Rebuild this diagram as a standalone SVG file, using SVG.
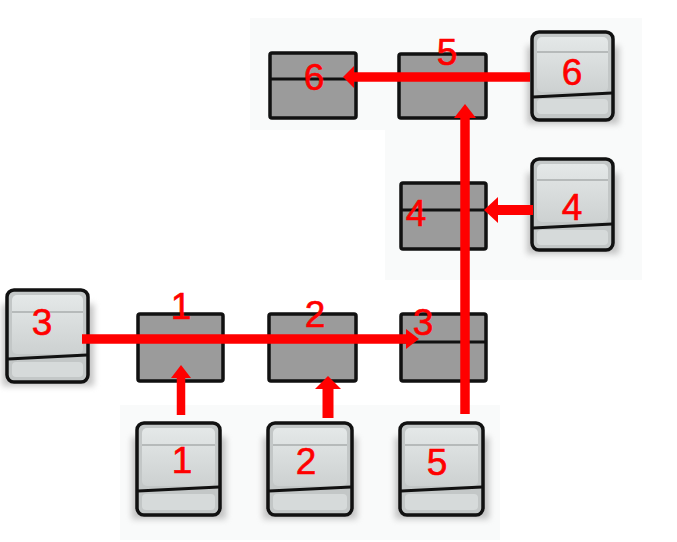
<svg xmlns="http://www.w3.org/2000/svg" width="677" height="542" viewBox="0 0 677 542">
<defs>
  <linearGradient id="lg" x1="0" y1="0" x2="0" y2="1">
    <stop offset="0" stop-color="#e4e8e8"/>
    <stop offset="1" stop-color="#cdd1d1"/>
  </linearGradient>
  <filter id="sh" x="-20%" y="-20%" width="140%" height="140%">
    <feGaussianBlur stdDeviation="3"/>
  </filter>
</defs>
<style>
  .dk{fill:#9b9b9b;stroke:#111;stroke-width:3.5;stroke-linejoin:round}
  .dv{stroke:#111;stroke-width:3}
  .lo{fill:#c3c7c7;stroke:#111;stroke-width:3.5;stroke-linejoin:round}
  .hi{fill:url(#lg)}
  .lw{fill:#d6dada}
  .gl{stroke:#a9adad;stroke-width:1.5}
  .sd{fill:#8a8a8a;opacity:0.5;filter:url(#sh)}
  .ar{stroke:#ff0000;stroke-width:9.5;fill:none}
  .hd{fill:#ff0000}
  .lb{font-family:"Liberation Sans",Arial,sans-serif;font-size:37px;fill:#ff0000;stroke:#ff0000;stroke-width:0.6;text-anchor:middle}
</style>
<rect width="677" height="542" fill="#ffffff"/>
<g id="bg" fill="#f9fafa">
  <rect x="250" y="18" width="392" height="112"/>
  <rect x="385" y="130" width="257" height="150"/>
  <rect x="120" y="405" width="380" height="135"/>
</g>

<g id="box6">
  <rect class="dk" x="270" y="53" width="86" height="65" rx="2"/>
  <line class="dv" x1="270" y1="79" x2="356" y2="79"/>
</g>
<g id="box5">
  <rect class="dk" x="399" y="54" width="87" height="64" rx="2"/>
</g>
<g id="box4">
  <rect class="dk" x="401" y="183" width="85" height="66" rx="2"/>
  <line class="dv" x1="401" y1="210" x2="486" y2="210"/>
</g>
<g id="box1">
  <rect class="dk" x="138" y="314" width="85" height="67" rx="2"/>
</g>
<g id="box2">
  <rect class="dk" x="269" y="314" width="87" height="67" rx="2"/>
</g>
<g id="box3">
  <rect class="dk" x="401" y="314" width="85" height="67" rx="2"/>
  <line class="dv" x1="401" y1="342" x2="486" y2="342"/>
</g>

<g id="src6">
  <rect class="sd" x="527" y="46" width="92" height="78"/>
  <rect class="lo" x="532" y="32" width="81" height="88" rx="7"/>
  <rect class="hi" x="537" y="37" width="71" height="55" rx="5"/>
  <line class="gl" x1="537" y1="52" x2="608" y2="52"/>
  <rect class="lw" x="537" y="99" width="71" height="15" rx="4"/>
  <line class="dv" x1="533" y1="97" x2="612" y2="93"/>
</g>
<g id="src4">
  <rect class="sd" x="527" y="173" width="92" height="81"/>
  <rect class="lo" x="532" y="159" width="81" height="91" rx="7"/>
  <rect class="hi" x="537" y="164" width="71" height="58" rx="5"/>
  <line class="gl" x1="537" y1="180" x2="608" y2="180"/>
  <rect class="lw" x="537" y="230" width="71" height="15" rx="4"/>
  <line class="dv" x1="533" y1="228" x2="612" y2="224"/>
</g>
<g id="src3">
  <rect class="sd" x="2" y="304" width="92" height="82"/>
  <rect class="lo" x="7" y="290" width="81" height="92" rx="7"/>
  <rect class="hi" x="12" y="295" width="71" height="59" rx="5"/>
  <line class="gl" x1="12" y1="312" x2="83" y2="312"/>
  <rect class="lw" x="12" y="362" width="71" height="15" rx="4"/>
  <line class="dv" x1="8" y1="359" x2="87" y2="355"/>
</g>
<g id="src1">
  <rect class="sd" x="132" y="437" width="94" height="82"/>
  <rect class="lo" x="137" y="423" width="83" height="92" rx="7"/>
  <rect class="hi" x="142" y="428" width="73" height="58" rx="5"/>
  <line class="gl" x1="142" y1="445" x2="215" y2="445"/>
  <rect class="lw" x="142" y="494" width="73" height="16" rx="4"/>
  <line class="dv" x1="138" y1="491" x2="219" y2="487"/>
</g>
<g id="src2">
  <rect class="sd" x="263" y="437" width="94" height="82"/>
  <rect class="lo" x="268" y="423" width="84" height="92" rx="7"/>
  <rect class="hi" x="273" y="428" width="74" height="58" rx="5"/>
  <line class="gl" x1="273" y1="445" x2="347" y2="445"/>
  <rect class="lw" x="273" y="494" width="74" height="16" rx="4"/>
  <line class="dv" x1="269" y1="491" x2="351" y2="487"/>
</g>
<g id="src5">
  <rect class="sd" x="395" y="437" width="94" height="82"/>
  <rect class="lo" x="400" y="423" width="83" height="92" rx="7"/>
  <rect class="hi" x="405" y="428" width="73" height="58" rx="5"/>
  <line class="gl" x1="405" y1="445" x2="478" y2="445"/>
  <rect class="lw" x="405" y="494" width="73" height="16" rx="4"/>
  <line class="dv" x1="401" y1="491" x2="482" y2="487"/>
</g>

<g id="connectors">
  <line class="ar" x1="82" y1="339" x2="408" y2="339"/>
  <polygon class="hd" points="406,329 419,339 406,349"/>
  <line class="ar" x1="465" y1="414" x2="465" y2="116"/>
  <polygon class="hd" points="454,118 465,104 476,118"/>
  <line class="ar" x1="530" y1="77" x2="352" y2="77"/>
  <polygon class="hd" points="354,66 343,77 354,88"/>
  <line class="ar" x1="533" y1="210" x2="496" y2="210" style="stroke-width:10"/>
  <polygon class="hd" points="498,197 484,210 498,223"/>
  <line class="ar" x1="181" y1="415" x2="181" y2="376" style="stroke-width:8.5"/>
  <polygon class="hd" points="171,378 181,365 191,378"/>
  <line class="ar" x1="328" y1="418" x2="328" y2="387" style="stroke-width:11"/>
  <polygon class="hd" points="315,389 328,376 341,389"/>
</g>

<g id="labels">
  <text class="lb" x="314" y="90">6</text>
  <text class="lb" x="447" y="65">5</text>
  <text class="lb" x="572" y="85">6</text>
  <text class="lb" x="416" y="226">4</text>
  <text class="lb" x="572" y="220">4</text>
  <text class="lb" x="42" y="335">3</text>
  <text class="lb" x="181" y="319">1</text>
  <text class="lb" x="315" y="327">2</text>
  <text class="lb" x="423" y="335">3</text>
  <text class="lb" x="182" y="473">1</text>
  <text class="lb" x="306" y="474">2</text>
  <text class="lb" x="437" y="475">5</text>
</g>
</svg>
